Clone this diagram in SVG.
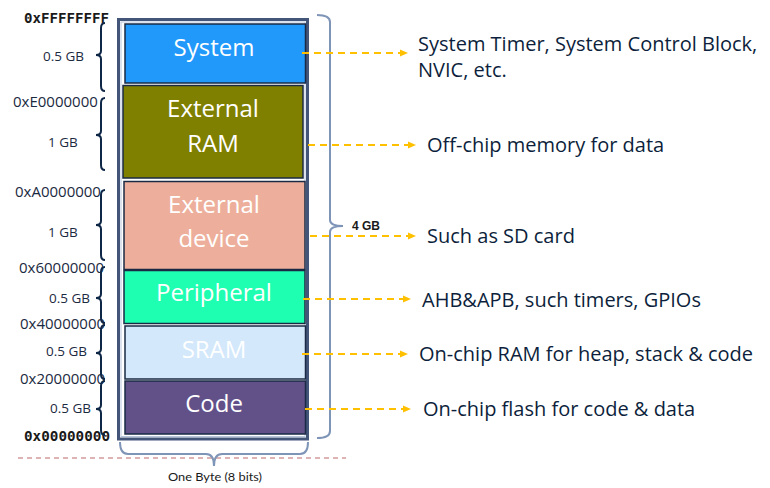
<svg xmlns="http://www.w3.org/2000/svg" width="770" height="488" viewBox="0 0 770 488">
<defs>
<marker id="ah" markerWidth="8" markerHeight="8" refX="7" refY="4" orient="auto" markerUnits="userSpaceOnUse">
<path d="M0,0.5 L8,4 L0,7.5 Z" fill="#ffc000"/>
</marker>
<style>
.blk{stroke:#1a2a44;stroke-width:1.5}
.bl{font-family:"Open Sans","Liberation Sans",sans-serif;font-size:24px;fill:#ffffff;text-anchor:middle}
.addr{font-family:"Open Sans","Liberation Sans",sans-serif;font-size:15px;fill:#1b2a41}
.mono{font-family:"DejaVu Sans Mono","Liberation Mono",monospace;font-size:14px;font-weight:bold;fill:#1a1a1a}
.sz{font-family:"Open Sans","Liberation Sans",sans-serif;font-size:13.5px;fill:#1b2a41}
.desc{font-family:"Open Sans","Liberation Sans",sans-serif;font-size:20px;fill:#0d1f3c}
.br{fill:none;stroke:#0f2747;stroke-width:2}
.arr{fill:none;stroke:#ffc000;stroke-width:2;stroke-dasharray:7,5;marker-end:url(#ah)}
</style>
</defs>
<rect width="770" height="488" fill="#ffffff"/>

<g id="frame">
<rect x="118.5" y="19.5" width="189" height="419.5" fill="#ffffff" stroke="#44557a" stroke-width="3"/>
<rect x="121" y="22" width="184" height="414.5" fill="none" stroke="#b8c6dc" stroke-width="1"/>
</g>

<g id="system">
<rect class="blk" x="125" y="24" width="180.5" height="59" fill="#2199fb"/>
<text class="bl" x="214" y="56">System</text>
</g>
<g id="external-ram">
<rect class="blk" x="123" y="85.5" width="180" height="92.5" fill="#808000"/>
<text class="bl" x="213" y="117">External</text>
<text class="bl" x="213" y="152">RAM</text>
</g>
<g id="external-device">
<rect class="blk" x="124" y="181.5" width="181" height="88" fill="#edaf9b"/>
<text class="bl" x="214" y="213">External</text>
<text class="bl" x="214" y="247">device</text>
</g>
<g id="peripheral">
<rect class="blk" x="124" y="270.5" width="181" height="53" fill="#1effb2"/>
<text class="bl" x="214" y="301">Peripheral</text>
</g>
<g id="sram">
<rect class="blk" x="125" y="326" width="180.5" height="53" fill="#d3e8fb"/>
<text class="bl" x="214" y="358">SRAM</text>
</g>
<g id="code">
<rect class="blk" x="125" y="381" width="180.5" height="53" fill="#625189"/>
<text class="bl" x="214" y="412">Code</text>
</g>

<g id="addresses">
<text class="mono" x="24" y="23" textLength="85" lengthAdjust="spacingAndGlyphs">0xFFFFFFFF</text>
<text class="addr" x="13" y="107">0xE0000000</text>
<text class="addr" x="15" y="197">0xA0000000</text>
<text class="addr" x="19" y="273">0x60000000</text>
<text class="addr" x="20" y="329">0x40000000</text>
<text class="addr" x="20" y="384">0x20000000</text>
<text class="mono" x="24" y="441" textLength="86" lengthAdjust="spacingAndGlyphs">0x00000000</text>
</g>

<g id="sizes">
<text class="sz" x="43" y="61">0.5 GB</text>
<text class="sz" x="48" y="147">1 GB</text>
<text class="sz" x="48" y="237">1 GB</text>
<text class="sz" x="49" y="303">0.5 GB</text>
<text class="sz" x="46" y="356">0.5 GB</text>
<text class="sz" x="50" y="413">0.5 GB</text>
</g>

<g id="braces">
<path class="br" d="M105,23 Q101,23 101,28 L101,51 Q101,55 96,55 Q101,55 101,59 L101,86 Q101,91 105,91"/>
<path class="br" d="M105,98 Q101,98 101,103 L101,131 Q101,135 96,135 Q101,135 101,139 L101,165 Q101,170 105,170"/>
<path class="br" d="M105,190 Q101,190 101,195 L101,221 Q101,225 96,225 Q101,225 101,229 L101,255 Q101,260 105,260"/>
<path class="br" d="M105,267 Q101,267 101,272 L101,294 Q101,298 96,298 Q101,298 101,302 L101,318 Q101,323 105,323"/>
<path class="br" d="M105,325 Q101,325 101,330 L101,349 Q101,353 96,353 Q101,353 101,357 L101,374 Q101,379 105,379"/>
<path class="br" d="M105,381 Q101,381 101,386 L101,405 Q101,409 96,409 Q101,409 101,413 L101,430 Q101,435 105,435"/>
</g>

<g id="brace-4gb">
<path d="M317,15 Q330,15 330,22 L330,220 Q330,226 343,226 Q330,226 330,232 L330,431 Q330,438 317,438" fill="none" stroke="#7f95b8" stroke-width="2"/>
<text x="352" y="230" font-family="Liberation Sans, Arial, sans-serif" font-size="12" font-weight="bold" fill="#1a1a1a">4 GB</text>
</g>

<g id="byte">
<line x1="18" y1="458" x2="346" y2="458" stroke="#d49a9a" stroke-width="1.5" stroke-dasharray="5,4"/>
<path d="M120,442 Q120,454 128,454 L206,454 Q214,454 214,466 Q214,454 222,454 L300,454 Q308,454 308,442" fill="none" stroke="#7f95b8" stroke-width="2"/>
<text x="168" y="481" font-family="Lato, 'Liberation Sans', sans-serif" font-size="11" fill="#1a1a1a" textLength="94" lengthAdjust="spacingAndGlyphs">One Byte (8 bits)</text>
</g>

<g id="connectors">
<path class="arr" d="M302,53 L407,53"/>
<path class="arr" d="M308,145 L415,145"/>
<path class="arr" d="M310,236 L415,236"/>
<path class="arr" d="M303,299 L410,299"/>
<path class="arr" d="M302,354 L407,354"/>
<path class="arr" d="M305,409 L410,409"/>
</g>

<g id="descriptions">
<text class="desc" x="418" y="51">System Timer, System Control Block,</text>
<text class="desc" x="418" y="77">NVIC, etc.</text>
<text class="desc" x="427" y="152">Off-chip memory for data</text>
<text class="desc" x="427" y="243">Such as SD card</text>
<text class="desc" x="422" y="307">AHB&amp;APB, such timers, GPIOs</text>
<text class="desc" x="419" y="361">On-chip RAM for heap, stack &amp; code</text>
<text class="desc" x="423" y="416">On-chip flash for code &amp; data</text>
</g>
</svg>
